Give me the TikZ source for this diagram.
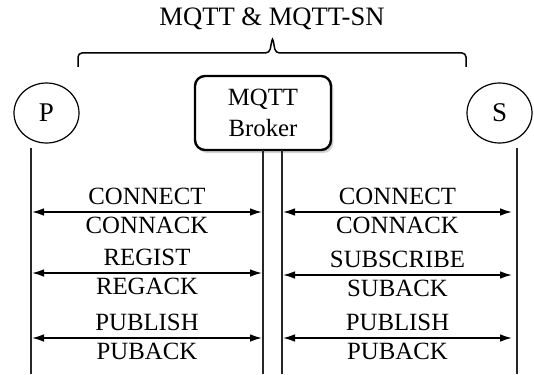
\documentclass[tikz,border=0pt]{standalone}
\usepackage{fontspec}
\setmainfont{Liberation Serif}
\usetikzlibrary{shapes.geometric,shadows,arrows.meta}
\begin{document}
\begin{tikzpicture}[x=0.5pt,y=-0.5pt,
  lblfont/.style={font=\fontsize{12.4}{15.5}\selectfont},
  actor/.style={draw,ellipse,minimum width=32.5pt,minimum height=30pt,inner sep=0pt,line width=0.6pt,font=\fontsize{13.5}{16}\selectfont},
  broker/.style={draw,rounded corners=5pt,line width=1.2pt,minimum width=68pt,minimum height=37pt,align=center,fill=white,lblfont,
    drop shadow={shadow xshift=1.2pt,shadow yshift=-1.5pt,opacity=0.35}},
  life/.style={line width=0.7pt,black!85},
  msg/.style={{Latex[length=6pt,width=3.8pt]}-{Latex[length=6pt,width=3.8pt]},line width=0.7pt},
  lbl/.style={lblfont,inner sep=0pt,anchor=base},
  bracepath/.style={line width=0.75pt,rounded corners=2pt}
]
\useasboundingbox (0,0) rectangle (534,374);

% title
\node[inner sep=0pt,anchor=base,font=\fontsize{13.3}{16}\selectfont] (title) at (272,26) {MQTT \& MQTT-SN};

% brace
\coordinate (bl) at (78,67);
\coordinate (br) at (466,67);
\coordinate (bp) at (272.5,37);
\draw[bracepath] (bl) -- (78,53) -- (269.5,53) -- (bp) -- (275.5,53) -- (466,53) -- (br);

% actors
\node[actor] (P) at (46.5,113) {P};
\node[actor] (S) at (499.5,113) {S};
\node[broker] (B) at (263,113) {MQTT\\Broker};

% lifelines
\coordinate (Pt) at (31,148);
\coordinate (Pb) at (31,374);
\coordinate (St) at (517,148);
\coordinate (Sb) at (517,374);
\coordinate (B1t) at (263,150);
\coordinate (B1b) at (263,374);
\coordinate (B2t) at (282,150);
\coordinate (B2b) at (282,374);
\draw[life] (Pt) -- (Pb);
\draw[life] (St) -- (Sb);
\draw[life] (B1t) -- (B1b);
\draw[life] (B2t) -- (B2b);

% left messages
\foreach \n/\y/\a/\b in {1/212/CONNECT/CONNACK,2/273/REGIST/REGACK,3/338/PUBLISH/PUBACK}{
  \coordinate (L\n a) at (32,\y);
  \coordinate (L\n b) at (262,\y);
  \draw[msg] (L\n a) -- (L\n b);
  \node[lbl] (L\n t) at (147,\y-8) {\a};
  \node[lbl] (L\n u) at (147,\y+21) {\b};
}
% right messages
\foreach \n/\y/\a/\b in {1/212/CONNECT/CONNACK,2/275/SUBSCRIBE/SUBACK,3/338/PUBLISH/PUBACK}{
  \coordinate (R\n a) at (283,\y);
  \coordinate (R\n b) at (512,\y);
  \draw[msg] (R\n a) -- (R\n b);
  \node[lbl] (R\n t) at (397.5,\y-8) {\a};
  \node[lbl] (R\n u) at (397.5,\y+21) {\b};
}
\end{tikzpicture}
\end{document}
